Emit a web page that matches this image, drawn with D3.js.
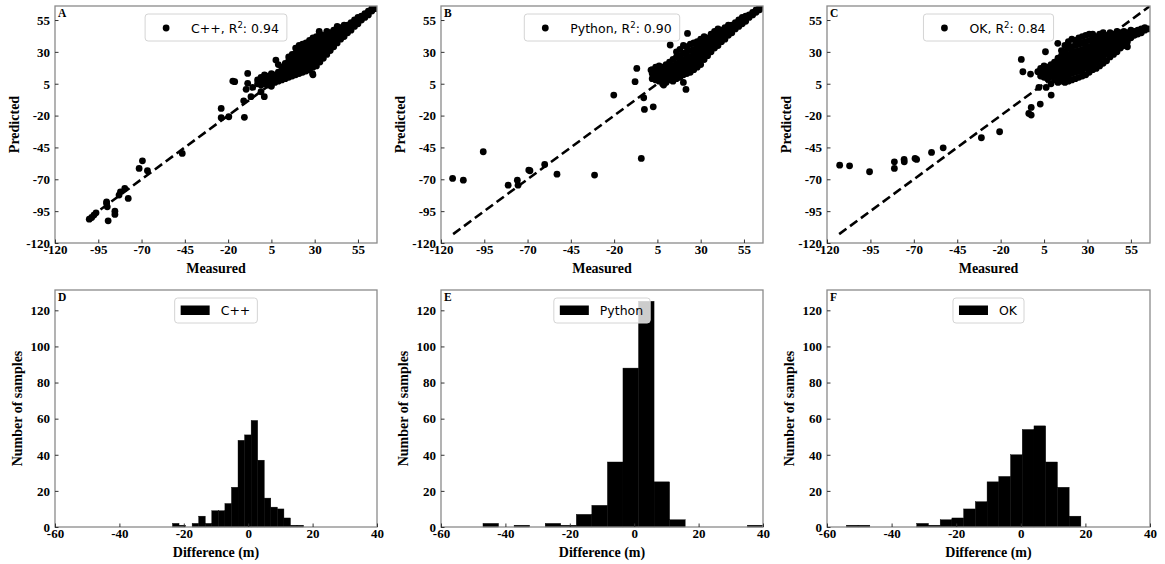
<!DOCTYPE html>
<html><head><meta charset="utf-8">
<script src="https://cdn.jsdelivr.net/npm/d3@7"></script>
<style>
body{margin:0;background:#fff} svg{display:block}
.tick text{font-family:'Liberation Serif','Times New Roman',serif !important;font-weight:bold !important;font-size:13px !important;fill:#000}
</style>
</head><body>
<svg id="c" width="1165" height="564"></svg>
<script>
// ---------- tick labels ----------
const scatterTicks = [-120, -95, -70, -45, -20, 5, 30, 55];
const histXTicks = [-60, -40, -20, 0, 20, 40];
const histYTicks = [0, 20, 40, 60, 80, 100, 120];
const scatterDomain = [-120, 66];
const histXDomain = [-60, 40];
const histYDomain = [0, 131.25];

// ---------- panel labels ----------
const methods = ["C++", "Python", "OK"];
const r2Values = ["0.94", "0.90", "0.84"];
const scatterLetters = ["A", "B", "C"];
const histLetters = ["D", "E", "F"];

// ---------- scatter data: isolated points [measured, predicted] ----------
const cppOutliers = [[-100.2,-101.3],[-98.8,-100],[-97.5,-98.1],[-96.3,-96.3],[-90.2,-89],[-89.8,-91.6],[-90.2,-87.7],
  [-89.3,-102.6],[-85.4,-95],[-85.4,-97.6],[-83,-82.4],[-82.2,-79.8],[-79.7,-77.2],[-77.7,-85],
  [-71.4,-61.5],[-69.5,-55.5],[-66.6,-63.3],[-46.5,-49.7],[-24,-14.4],[-24,-21.7],[-19.6,-20.9],
  [-17.3,7.1],[-16.2,6.6],[-10.6,-21.4],[-11,-8.4],[-8.7,13.1],[-8.7,5.3],[-9.6,0.6],[-6.8,-5.2],
  [-5.8,2.1],[0.9,-5.2],[-1,-1.3],[7.6,23.6],[32.6,46],[28.8,13],[63.6,64]];
const pyOutliers = [[-113.3,-69.3],[-107.1,-70.7],[-95.6,-48.4],[-81.2,-74.6],[-75.9,-70.7],[-75.5,-74.6],
  [-69.3,-62.8],[-68.6,-63.3],[-60.1,-58.4],[-53,-66],[-31.3,-66.7],[-20.2,-3.9],[-7.9,6.6],[-6.9,17],
  [-4.3,-53.6],[-2.9,-6],[-2.5,-15.2],[2.6,-13.1],[1.3,15.7],[12.4,35.4],[22.4,44.5],[8.6,4],[21.5,0.5]];
const okOutliers = [[-112.7,-58.9],[-107,-59.4],[-95.5,-64.1],[-81.2,-56.3],[-81.2,-61.5],[-75.6,-54.4],
  [-75.5,-56.3],[-69.3,-53.6],[-68.4,-54.4],[-59.8,-48.9],[-53.1,-45.3],[-31.1,-37.4],[-20.6,-32.7],
  [-8.1,24.1],[-7.2,14.4],[-2.8,12.6],[-3.8,-18.3],[-2.4,-19.6],[-2.4,-13.6],[2.8,-11],[9.1,-3.9],
  [5.8,30.1],[1.4,14.4],[2,2.1],[6.2,2.1],[12.9,36.7]];

// ---------- scatter data: dense band, [measured, [predicted...]] ----------
const cppBand = [[-3,[5,8]],[-1,[4,7,10]],[1,[5,6,9,12]],[3,[4,7,8,11]],[5,[3,5,6,9,13]],[7,[6,8,10,12]],
  [9,[7,9,11,14,20]],[11,[8,10,12,15,18]],[13,[9,11,14,17,21]],[15,[10,13,16,19,23,26]],
  [17,[11,14,17,20,24,28]],[19,[12,15,18,22,25,29,33]],[21,[13,16,20,23,27,31,35]],
  [23,[14,18,21,25,28,32,36]],[25,[15,19,23,26,30,34,37]],[27,[16,20,24,28,31,35,39]],
  [29,[12,18,22,26,29,33,37,41]],[31,[19,23,27,31,35,38,42]],[33,[22,25,29,33,36,40,44]],
  [35,[25,28,32,35,39,43]],[37,[28,31,35,38,42,46]],[39,[31,34,38,41,45]],[41,[34,37,40,44,47]],
  [43,[37,40,43,46,50]],[45,[40,43,46,49]],[47,[42,45,48,51]],[49,[45,48,51]],[51,[47,50,53]],
  [53,[50,53,55]],[55,[52,55,57]],[57,[55,58]],[59,[57,60]],[61,[59,62]],[63,[62,64]],[65,[64]]];
const pyBand = [[2,[9,13,16]],[4,[8,11,14,18]],[6,[7,10,13,16,19]],[8,[5,9,12,15,18]],[10,[6,10,13,17,20]],
  [12,[8,11,14,18,22]],[14,[7,12,15,19,24]],[16,[9,13,17,21,26,30]],[18,[10,14,18,22,27,32]],
  [20,[6,12,16,20,24,29,35]],[22,[13,17,21,25,30,34]],[24,[14,18,22,26,31,36]],[26,[16,20,24,28,32,37]],
  [28,[18,22,26,30,34,38]],[30,[20,24,28,32,36,40]],[32,[24,28,31,34,38,42]],[34,[27,30,33,37,41]],
  [36,[30,33,36,40,44]],[38,[33,36,39,43,46]],[40,[35,38,41,45,48]],[42,[38,41,44,47]],[44,[40,43,46,49]],
  [46,[43,46,49,51]],[48,[45,48,51]],[50,[48,50,53]],[52,[50,52,55]],[54,[52,54,57]],[56,[54,57,58]],
  [58,[57,59]],[60,[59,61]],[62,[61,63]],[64,[63,65]]];
const okBand = [[3,[11,14,17]],[5,[10,13,16,19]],[7,[9,12,15,18]],[9,[5,11,14,17,20]],[11,[8,12,15,18,22]],
  [13,[6,10,14,17,21,25]],[15,[7,11,15,19,23,27,31]],[17,[6,10,14,18,22,26,30,35]],
  [19,[7,12,16,20,24,28,33,38]],[21,[8,13,17,21,25,29,34,40]],[23,[9,14,18,22,26,30,35,39]],
  [25,[10,15,19,23,27,31,36,41]],[27,[11,16,20,24,28,32,37,42]],[29,[12,17,21,25,29,33,38,43]],
  [31,[14,18,22,26,30,34,39,44]],[33,[16,20,24,28,32,36,40,44]],[35,[17,22,26,30,34,38,42]],
  [37,[19,24,28,32,36,40,44]],[39,[21,26,30,34,38,42,45]],[41,[23,28,32,36,40,43]],
  [43,[26,30,34,38,41,45]],[45,[28,32,36,40,44]],[47,[30,34,38,42,46]],[49,[33,37,41,45]],
  [51,[35,39,43,46]],[53,[34,38,42,45]],[55,[41,44,47]],[57,[43,46]],[59,[44,47]],[61,[45,48]],
  [63,[47,49]],[65,[48]]];

// 1:1 reference line extents (measured range)
const lineExtents = [[-100, 66], [-113, 66], [-113, 66]];

// ---------- histogram data ----------
const cppHistStart = -23.52, cppHistWidth = 2.036;
const cppHistCounts = [2,1,0,2,6,2,9,9,13,22,48,51,59,37,16,11,10,5,1,1];
const pyHistStart = -46.96, pyHistWidth = 4.83;
const pyHistCounts = [2,0,1,0,2,1,7,12,36,88,125,25,4,0,0,0,0,1];
const okHistStart = -54.0, okHistWidth = 3.63;
const okHistCounts = [1,1,0,0,0,0,2,1,4,5,10,14,25,28,40,54,56,36,22,6];

// ---------- layout ----------
const cols = [[55, 377], [441, 763], [827, 1150]];
const topRow = [6, 243], botRow = [290, 527];
const SERIF = "'Liberation Serif','Times New Roman',serif";
const SANS = "'DejaVu Sans',sans-serif";
const SPINE = "#8a8a8a";

const svg = d3.select("#c");

function expandBand(band) { return band.flatMap(([x, ys]) => ys.map(y => [x, y])); }
const fmt = d => String(d); // ASCII hyphen-minus, as in the reference

function frame(g, x0, x1, y0, y1) {
  g.append("rect").attr("x", x0).attr("y", y0).attr("width", x1 - x0).attr("height", y1 - y0)
    .attr("fill", "none").attr("stroke", SPINE).attr("stroke-width", 1.3);
}

function styleAxis(sel) {
  sel.attr("font-family", SERIF).attr("font-size", 13).attr("font-weight", "bold");
  sel.select(".domain").remove();
  sel.selectAll(".tick line").attr("stroke", "#333").attr("stroke-width", 1);
  sel.selectAll(".tick text").attr("fill", "#000");
}

function axes(g, x, y, xt, yt, x0, x1, y0, y1, xlabel, ylabel, ylabelX) {
  const ax = g.append("g").attr("transform", `translate(0,${y1})`)
    .call(d3.axisBottom(x).tickValues(xt).tickSize(-3.5).tickFormat(fmt));
  styleAxis(ax);
  ax.selectAll(".tick text").attr("y", 10.5).attr("dy", 0);
  const ay = g.append("g").attr("transform", `translate(${x0},0)`)
    .call(d3.axisLeft(y).tickValues(yt).tickSize(-3.5).tickFormat(fmt));
  styleAxis(ay);
  ay.selectAll(".tick text").attr("x", -5).attr("dy", "0.33em");
  g.append("text").attr("x", (x0 + x1) / 2).attr("y", y1 + 29.5).attr("text-anchor", "middle")
    .style("font-family", SERIF).style("font-weight", "bold").style("font-size", "14px").text(xlabel);
  g.append("text").attr("transform", `translate(${ylabelX},${(y0 + y1) / 2}) rotate(-90)`)
    .attr("text-anchor", "middle").style("font-family", SERIF).style("font-weight", "bold")
    .style("font-size", "14px").text(ylabel);
}

function letter(g, x0, y0, t) {
  g.append("text").attr("x", x0 + 3).attr("y", y0 + 11).style("font-family", SERIF)
    .style("font-weight", "bold").style("font-size", "11.5px").text(t);
}

function legendBox(g, cx, y0, h, w) {
  return g.append("rect").attr("x", cx - w / 2).attr("y", y0).attr("width", w).attr("height", h)
    .attr("rx", 3).attr("fill", "#fff").attr("fill-opacity", 0.8)
    .attr("stroke", "#d4d4d4").attr("stroke-width", 1);
}

// ---------- scatter panels ----------
const scatterSets = [
  cppOutliers.concat(expandBand(cppBand)),
  pyOutliers.concat(expandBand(pyBand)),
  okOutliers.concat(expandBand(okBand))
];

scatterSets.forEach((pts, i) => {
  const [x0, x1] = cols[i], [y0, y1] = topRow;
  const g = svg.append("g");
  const x = d3.scaleLinear().domain(scatterDomain).range([x0, x1]);
  const y = d3.scaleLinear().domain(scatterDomain).range([y1, y0]);
  const clipId = "clipS" + i;
  g.append("clipPath").attr("id", clipId).append("rect")
    .attr("x", x0).attr("y", y0).attr("width", x1 - x0).attr("height", y1 - y0);
  const pg = g.append("g").attr("clip-path", `url(#${clipId})`);
  pg.selectAll("circle").data(pts).enter().append("circle")
    .attr("cx", d => x(d[0])).attr("cy", d => y(d[1])).attr("r", 3.4).attr("fill", "#000");
  const le = lineExtents[i];
  pg.append("line").attr("x1", x(le[0])).attr("y1", y(le[0])).attr("x2", x(le[1])).attr("y2", y(le[1]))
    .attr("stroke", "#000").attr("stroke-width", 2.6).attr("stroke-dasharray", "9,4.5");
  frame(g, x0, x1, y0, y1);
  axes(g, x, y, scatterTicks, scatterTicks, x0, x1, y0, y1, "Measured", "Predicted", 18.5 + x0 - 55);
  letter(g, x0, y0, scatterLetters[i]);
  // legend
  const cx = (x0 + x1) / 2;
  const lg = g.append("g");
  const box = legendBox(lg, cx, y0 + 8, 27, 10);
  const t = lg.append("text").attr("y", y0 + 26.5).style("font-family", SANS).style("font-size", "12.5px");
  t.append("tspan").text(methods[i] + ", R");
  t.append("tspan").style("font-size", "8.5px").attr("dy", -5).text("2");
  t.append("tspan").attr("dy", 5).text(": " + r2Values[i]);
  const tw = t.node().getComputedTextLength();
  const w = 46 + tw + 8;
  box.attr("x", cx - w / 2).attr("width", w);
  t.attr("x", cx - w / 2 + 46);
  lg.append("circle").attr("cx", cx - w / 2 + 21).attr("cy", y0 + 22).attr("r", 3.4).attr("fill", "#000");
});

// ---------- histogram panels ----------
const histSets = [
  [cppHistStart, cppHistWidth, cppHistCounts],
  [pyHistStart, pyHistWidth, pyHistCounts],
  [okHistStart, okHistWidth, okHistCounts]
];

histSets.forEach(([start, width, counts], i) => {
  const [x0, x1] = cols[i], [y0, y1] = botRow;
  const g = svg.append("g");
  const x = d3.scaleLinear().domain(histXDomain).range([x0, x1]);
  const y = d3.scaleLinear().domain(histYDomain).range([y1, y0]);
  const bins = counts.map((c, k) => ({ a: start + k * width, b: start + (k + 1) * width, c }));
  g.selectAll("rect.bar").data(bins.filter(d => d.c > 0)).enter().append("rect").attr("class", "bar")
    .attr("x", d => x(d.a)).attr("width", d => x(d.b) - x(d.a))
    .attr("y", d => y(d.c)).attr("height", d => y(0) - y(d.c))
    .attr("fill", "#000").attr("stroke", "#000").attr("stroke-width", 0.4);
  frame(g, x0, x1, y0, y1);
  axes(g, x, y, histXTicks, histYTicks, x0, x1, y0, y1, "Difference (m)", "Number of samples", 21.5 + x0 - 55);
  letter(g, x0, y0, histLetters[i]);
  const cx = (x0 + x1) / 2;
  const lg = g.append("g");
  const box = legendBox(lg, cx, y0 + 8, 25, 10);
  const t = lg.append("text").attr("y", y0 + 24.5).style("font-family", SANS).style("font-size", "12.5px").text(methods[i]);
  const tw = t.node().getComputedTextLength();
  const w = 46 + tw + 7;
  box.attr("x", cx - w / 2).attr("width", w);
  t.attr("x", cx - w / 2 + 46);
  lg.append("rect").attr("x", cx - w / 2 + 6).attr("y", y0 + 15.5).attr("width", 29).attr("height", 9.5).attr("fill", "#000");
});
</script>
</body></html>
